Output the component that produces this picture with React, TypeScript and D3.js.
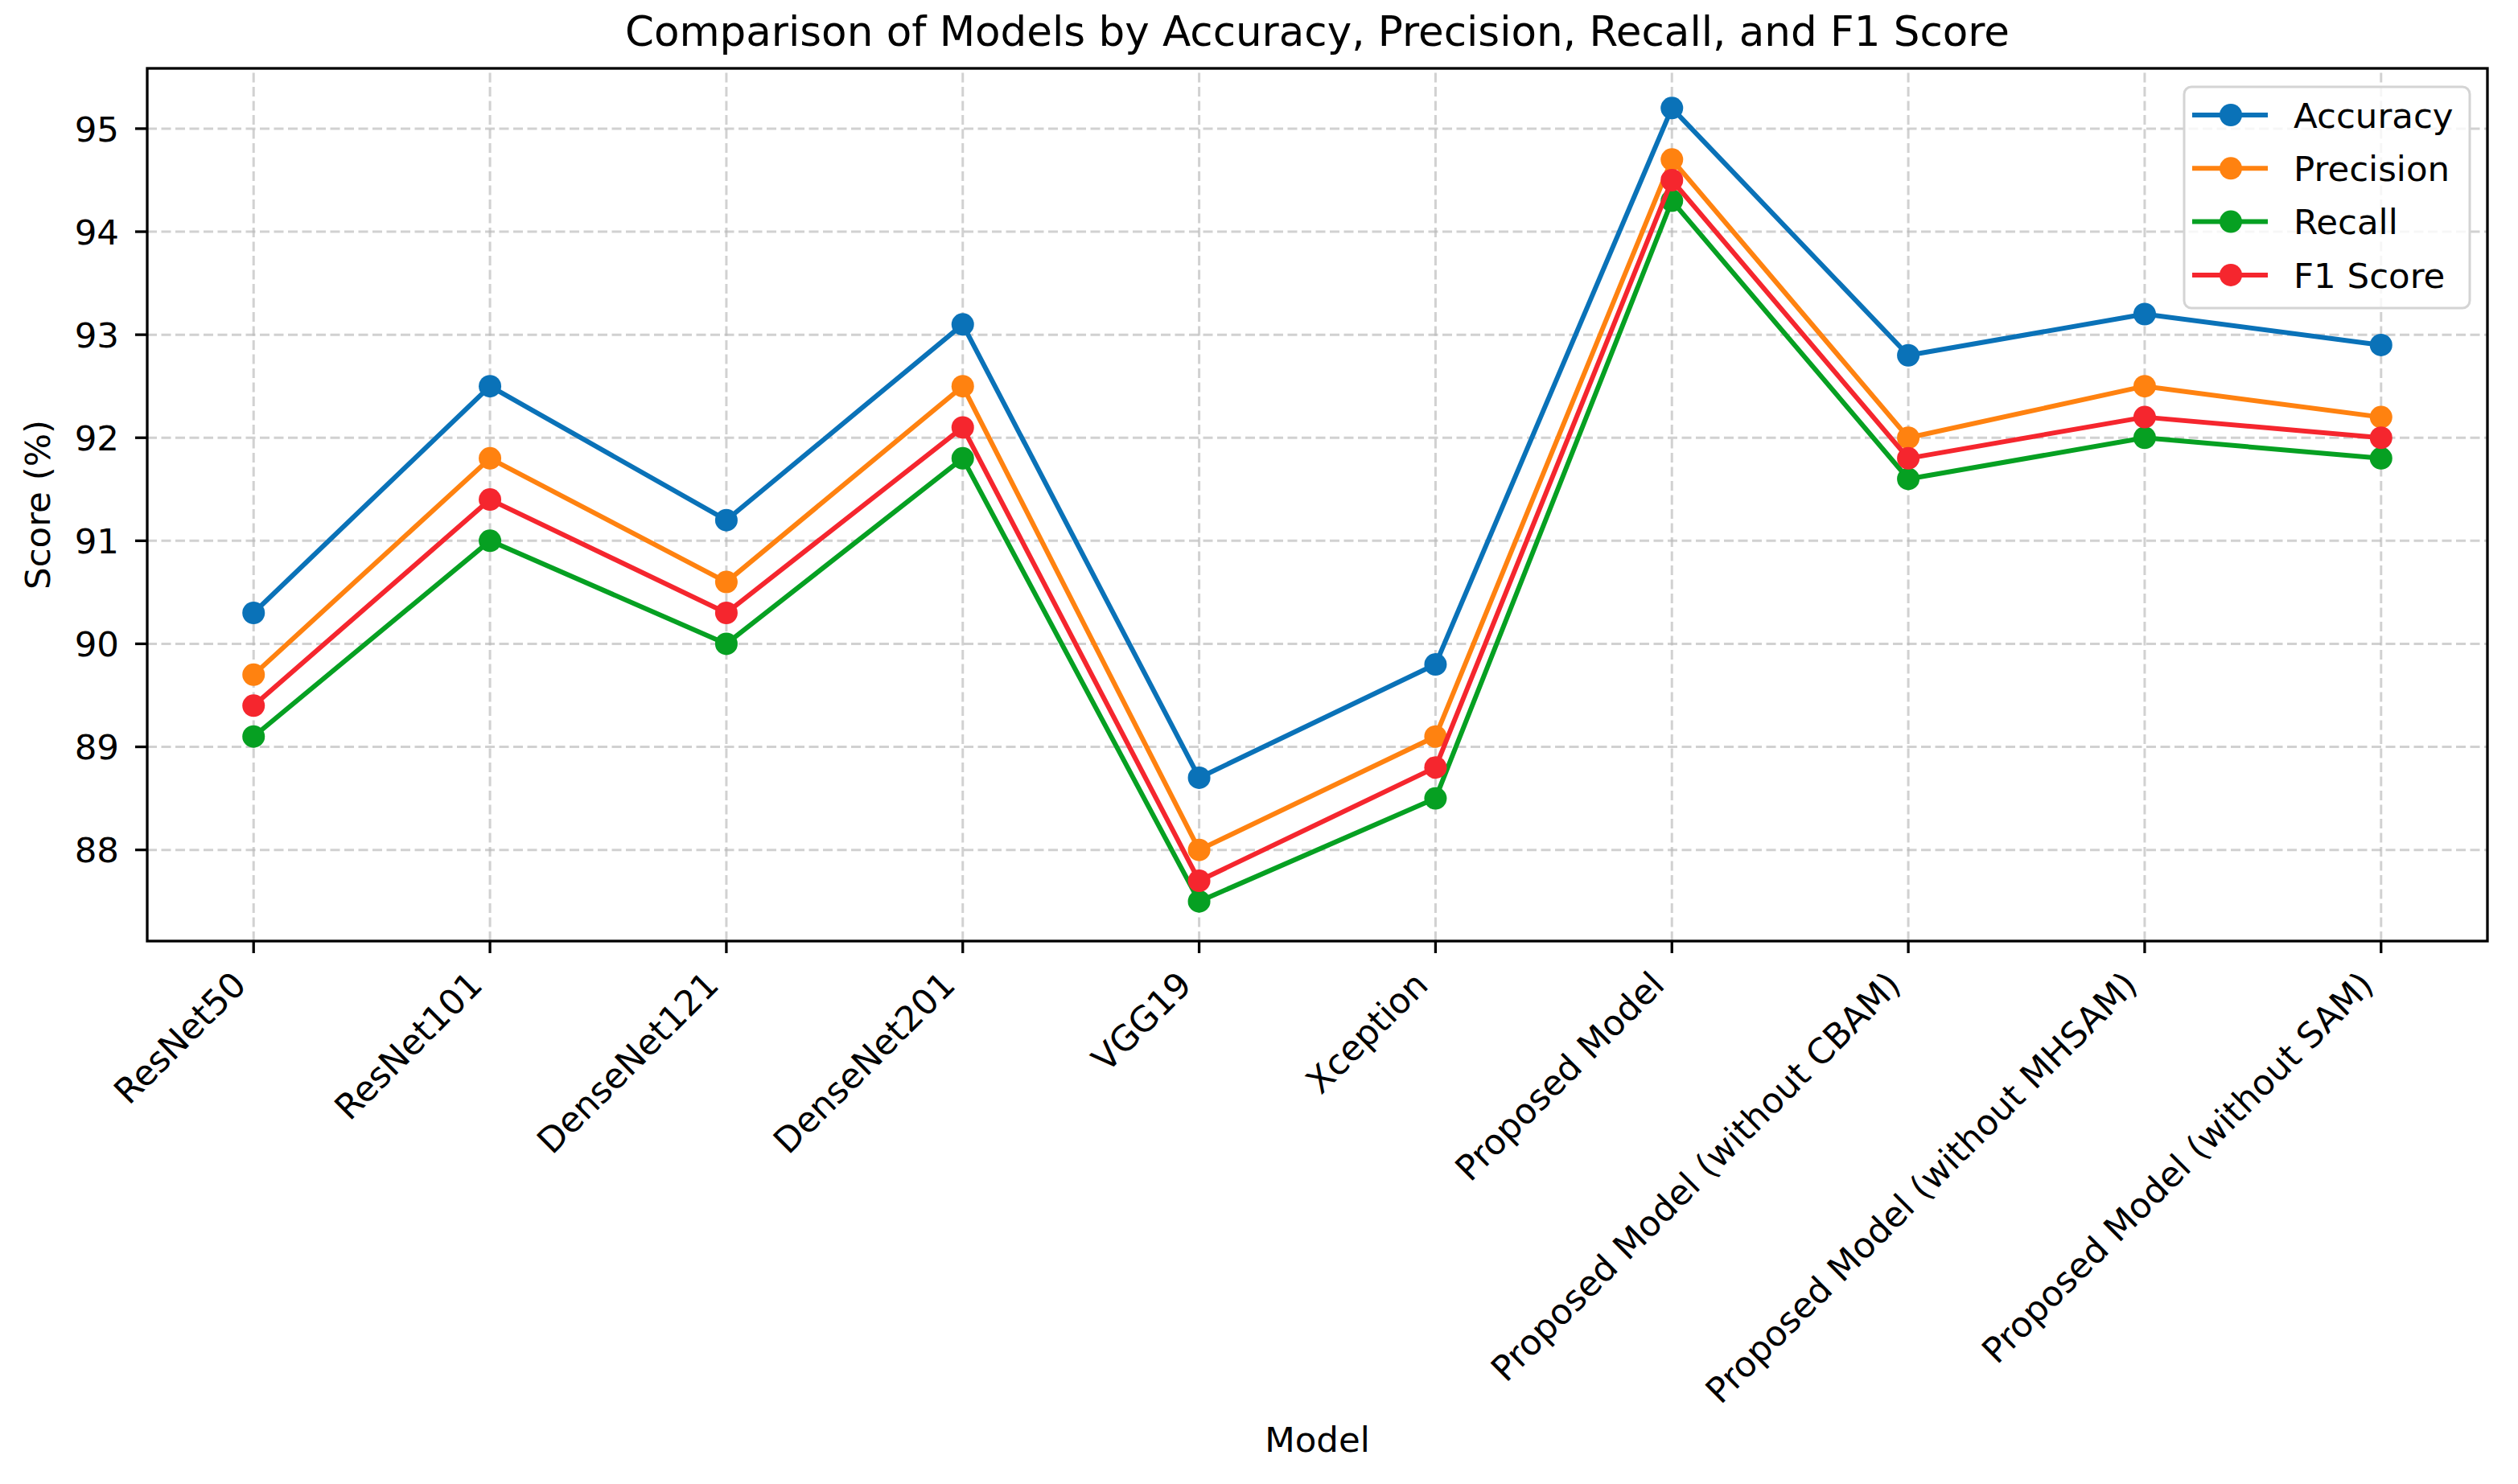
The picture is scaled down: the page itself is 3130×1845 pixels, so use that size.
import { useEffect, useRef } from 'react';
import * as d3 from 'd3';

const WIDTH = 3130;
const HEIGHT = 1845;
const PLOT = { left: 183, right: 3092, top: 85, bottom: 1170 } as const;
const FONT = 'DejaVu Sans, Verdana, sans-serif';
const LABEL_SIZE = 43.5;
const TITLE_SIZE = 51.5;

const MODELS = [
  'ResNet50',
  'ResNet101',
  'DenseNet121',
  'DenseNet201',
  'VGG19',
  'Xception',
  'Proposed Model',
  'Proposed Model (without CBAM)',
  'Proposed Model (without MHSAM)',
  'Proposed Model (without SAM)',
];

const ACCURACY = [90.3, 92.5, 91.2, 93.1, 88.7, 89.8, 95.2, 92.8, 93.2, 92.9];
const PRECISION = [89.7, 91.8, 90.6, 92.5, 88.0, 89.1, 94.7, 92.0, 92.5, 92.2];
const RECALL = [89.1, 91.0, 90.0, 91.8, 87.5, 88.5, 94.3, 91.6, 92.0, 91.8];
const F1_SCORE = [89.4, 91.4, 90.3, 92.1, 87.7, 88.8, 94.5, 91.8, 92.2, 92.0];

const SERIES_NAMES = ['Accuracy', 'Precision', 'Recall', 'F1 Score'];
const SERIES_COLORS = ['#0a72b8', '#ff8210', '#06a022', '#f5262e'];
const SERIES_VALUES = [ACCURACY, PRECISION, RECALL, F1_SCORE];

const Y_TICKS = [88, 89, 90, 91, 92, 93, 94, 95];

export default function App() {
  const svgRef = useRef<SVGSVGElement | null>(null);

  useEffect(() => {
    const svgEl = svgRef.current;
    if (!svgEl) return;

    const n = MODELS.length;
    // matplotlib-style 5% margins on both axes
    const xScale = d3
      .scaleLinear()
      .domain([-0.05 * (n - 1), (n - 1) * 1.05])
      .range([PLOT.left, PLOT.right]);

    const allValues = SERIES_VALUES.flat();
    const yMin = d3.min(allValues) as number;
    const yMax = d3.max(allValues) as number;
    const pad = (yMax - yMin) * 0.05;
    const yScale = d3
      .scaleLinear()
      .domain([yMin - pad, yMax + pad])
      .range([PLOT.bottom, PLOT.top]);

    const svg = d3.select(svgEl);
    svg.selectAll('*').remove();

    svg.append('rect').attr('width', WIDTH).attr('height', HEIGHT).attr('fill', '#ffffff');

    // ---- Grid ---------------------------------------------------------------
    const grid = svg.append('g').attr('stroke', '#b8b8b8').attr('stroke-opacity', 0.65);
    grid
      .selectAll('line.h')
      .data(Y_TICKS)
      .join('line')
      .attr('class', 'h')
      .attr('x1', PLOT.left)
      .attr('x2', PLOT.right)
      .attr('y1', (d) => yScale(d))
      .attr('y2', (d) => yScale(d))
      .attr('stroke-width', 3)
      .attr('stroke-dasharray', '12 5.5');
    grid
      .selectAll('line.v')
      .data(MODELS.map((_, i) => i))
      .join('line')
      .attr('class', 'v')
      .attr('x1', (d) => xScale(d))
      .attr('x2', (d) => xScale(d))
      .attr('y1', PLOT.bottom)
      .attr('y2', PLOT.top)
      .attr('stroke-width', 3)
      .attr('stroke-dasharray', '12 5.5');

    // ---- Series -------------------------------------------------------------
    const line = d3
      .line<number>()
      .x((_, i) => xScale(i))
      .y((d) => yScale(d));

    SERIES_VALUES.forEach((values, s) => {
      const g = svg.append('g');
      g.append('path')
        .datum(values)
        .attr('fill', 'none')
        .attr('stroke', SERIES_COLORS[s])
        .attr('stroke-width', 6)
        .attr('stroke-linejoin', 'round')
        .attr('d', line);
      g.selectAll('circle')
        .data(values)
        .join('circle')
        .attr('cx', (_, i) => xScale(i))
        .attr('cy', (d) => yScale(d))
        .attr('r', 14)
        .attr('fill', SERIES_COLORS[s]);
    });

    // ---- Spines -------------------------------------------------------------
    svg
      .append('rect')
      .attr('x', PLOT.left)
      .attr('y', PLOT.top)
      .attr('width', PLOT.right - PLOT.left)
      .attr('height', PLOT.bottom - PLOT.top)
      .attr('fill', 'none')
      .attr('stroke', '#000000')
      .attr('stroke-width', 3.3);

    // ---- Y axis ticks ------------------------------------------------------
    const yAxis = svg.append('g');
    yAxis
      .selectAll('g.tick')
      .data(Y_TICKS)
      .join('g')
      .attr('class', 'tick')
      .attr('transform', (d) => `translate(${PLOT.left}, ${yScale(d)})`)
      .each(function (d) {
        const tick = d3.select(this);
        tick.append('line').attr('x1', -15).attr('x2', 0).attr('stroke', '#000').attr('stroke-width', 3.3);
        tick
          .append('text')
          .attr('x', -35)
          .attr('dy', '0.36em')
          .attr('text-anchor', 'end')
          .attr('font-family', FONT)
          .attr('font-size', LABEL_SIZE)
          .attr('fill', '#000')
          .text(d);
      });

    // ---- X axis ticks (labels rotated 45°, right-aligned) -----------------
    const xAxis = svg.append('g');
    xAxis
      .selectAll('g.tick')
      .data(MODELS)
      .join('g')
      .attr('class', 'tick')
      .attr('transform', (_, i) => `translate(${xScale(i)}, ${PLOT.bottom})`)
      .each(function (d) {
        const tick = d3.select(this);
        tick.append('line').attr('y1', 0).attr('y2', 15).attr('stroke', '#000').attr('stroke-width', 3.3);
        tick
          .append('text')
          .attr('transform', 'translate(-7, 57) rotate(-45)')
          .attr('text-anchor', 'end')
          .attr('font-family', FONT)
          .attr('font-size', LABEL_SIZE)
          .attr('fill', '#000')
          .text(d);
      });

    // ---- Labels -------------------------------------------------------------
    const midX = (PLOT.left + PLOT.right) / 2;
    svg
      .append('text')
      .attr('x', midX)
      .attr('y', 57)
      .attr('text-anchor', 'middle')
      .attr('font-family', FONT)
      .attr('font-size', TITLE_SIZE)
      .attr('fill', '#000')
      .text('Comparison of Models by Accuracy, Precision, Recall, and F1 Score');
    svg
      .append('text')
      .attr('x', midX)
      .attr('y', 1805)
      .attr('text-anchor', 'middle')
      .attr('font-family', FONT)
      .attr('font-size', LABEL_SIZE)
      .attr('fill', '#000')
      .text('Model');
    svg
      .append('text')
      .attr('transform', `translate(62, ${(PLOT.top + PLOT.bottom) / 2}) rotate(-90)`)
      .attr('text-anchor', 'middle')
      .attr('font-family', FONT)
      .attr('font-size', LABEL_SIZE)
      .attr('fill', '#000')
      .text('Score (%)');

    // ---- Legend (upper right) ---------------------------------------------
    const legendW = 355;
    const legendH = 275;
    const legendX = PLOT.right - 22 - legendW;
    const legendY = PLOT.top + 23;
    const legend = svg.append('g').attr('transform', `translate(${legendX}, ${legendY})`);
    legend
      .append('rect')
      .attr('width', legendW)
      .attr('height', legendH)
      .attr('rx', 9)
      .attr('fill', '#ffffff')
      .attr('fill-opacity', 0.8)
      .attr('stroke', '#d4d4d4')
      .attr('stroke-width', 3);

    SERIES_NAMES.forEach((name, s) => {
      const row = legend.append('g').attr('transform', `translate(0, ${35 + s * 66.3})`);
      row
        .append('line')
        .attr('x1', 10)
        .attr('x2', 104)
        .attr('stroke', SERIES_COLORS[s])
        .attr('stroke-width', 6);
      row.append('circle').attr('cx', 58).attr('r', 14).attr('fill', SERIES_COLORS[s]);
      row
        .append('text')
        .attr('x', 136)
        .attr('dy', '0.36em')
        .attr('font-family', FONT)
        .attr('font-size', LABEL_SIZE)
        .attr('fill', '#000')
        .text(name);
    });
  }, []);

  return (
    <svg
      ref={svgRef}
      width={WIDTH}
      height={HEIGHT}
      viewBox={`0 0 ${WIDTH} ${HEIGHT}`}
      style={{ position: 'absolute', left: 0, top: 0, display: 'block' }}
      role="img"
      aria-label="Comparison of Models by Accuracy, Precision, Recall, and F1 Score"
    />
  );
}
